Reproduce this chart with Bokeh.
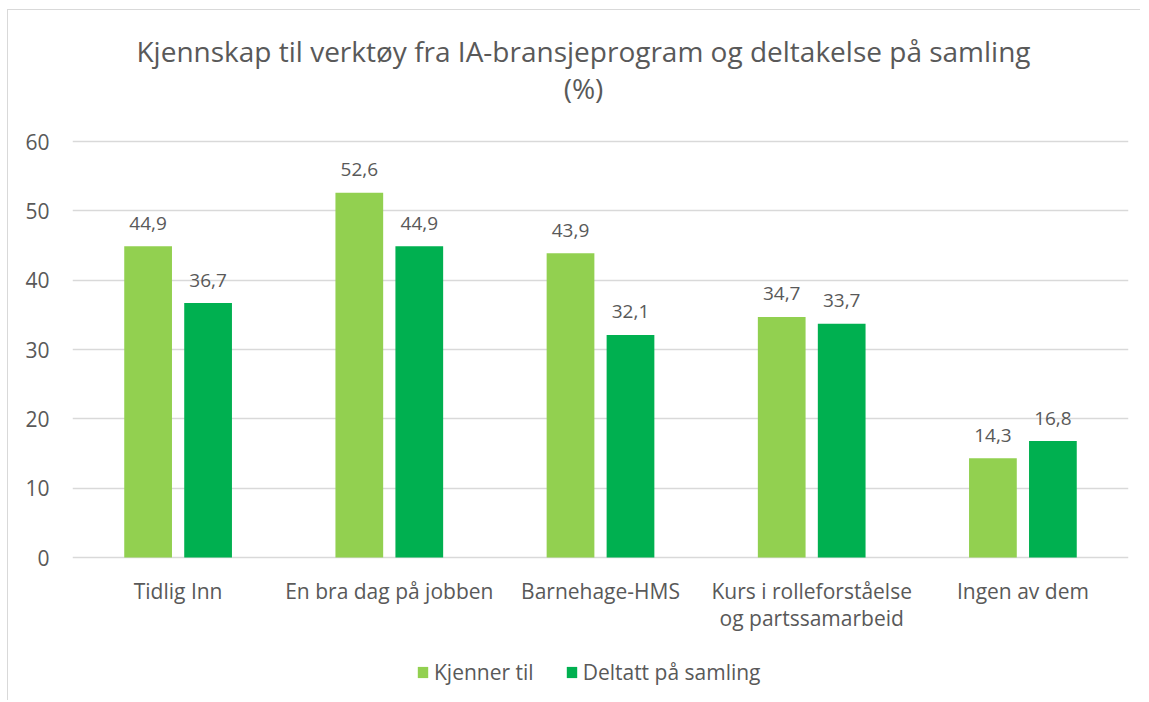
from bokeh.plotting import figure
from bokeh.models import (ColumnDataSource, Range1d, Legend, LegendItem, Label, FixedTicker)
from bokeh.transform import dodge
from bokeh.core.properties import value
from bokeh.embed import file_html
from bokeh.resources import INLINE

categories = ["Tidlig Inn", "En bra dag på jobben", "Barnehage-HMS",
              "Kurs i rolleforståelse\nog partssamarbeid", "Ingen av dem"]
kjenner_til = [44.9, 52.6, 43.9, 34.7, 14.3]
deltatt = [36.7, 44.9, 32.1, 33.7, 16.8]
series_names = ["Kjenner til", "Deltatt på samling"]
y_ticks = [0, 10, 20, 30, 40, 50, 60]
title_lines = ["Kjennskap til verktøy fra IA-bransjeprogram og deltakelse på samling", "(%)"]

FONT = "Open Sans"
TXT = "#595959"
GRID = "#D9D9D9"
C1 = "#92D050"
C2 = "#00B050"

def fmt(v):
    return f"{v:.1f}".replace(".", ",")

idx = list(range(len(categories)))
line1 = [c.split("\n")[0] for c in categories]
line2 = [c.split("\n")[1] if "\n" in c else "" for c in categories]

src = ColumnDataSource(dict(
    x=idx, base=[0] * len(idx), l1=line1, l2=line2,
    v1=kjenner_til, v2=deltatt,
    t1=[fmt(v) for v in kjenner_til], t2=[fmt(v) for v in deltatt],
))

# frame spans the whole height of the chart; value axis 0..60 occupies 416 px of it
PX_PER_UNIT = 416 / 60
y_top = 60 + 131 / PX_PER_UNIT
y_bot = -143 / PX_PER_UNIT

p = figure(frame_width=1056, frame_height=690,
           x_range=Range1d(-0.5, len(categories) - 0.5),
           y_range=Range1d(y_bot, y_top), output_backend="svg", toolbar_location=None,
           x_axis_location=None,
           min_border_left=64, min_border_right=12, min_border_top=0, min_border_bottom=0)
p.outline_line_color = None
p.title.text = ""
p.styles = {"border-left": "1px solid #D9D9D9", "border-top": "1px solid #D9D9D9",
            "margin-left": "7px", "margin-top": "9px"}

off = 0.142
w = 0.226
r1 = p.vbar(x=dodge("x", -off), top="v1", width=w, source=src,
            fill_color=C1, line_color=None)
r2 = p.vbar(x=dodge("x", off), top="v2", width=w, source=src,
            fill_color=C2, line_color=None)

for col, tcol, o in (("v1", "t1", -off), ("v2", "t2", off)):
    p.text(x=dodge("x", o), y=col, text=tcol, source=src,
           text_align="center", text_baseline="alphabetic", y_offset=-23,
           text_font=value(FONT), text_font_size="19px", text_color=TXT)

# category labels (two lines) under the baseline
for tcol, yo in (("l1", 33), ("l2", 60)):
    p.text(x="x", y="base", text=tcol, source=src, text_align="center",
           text_baseline="middle", y_offset=yo,
           text_font=value(FONT), text_font_size="21px", text_color=TXT)

# y axis
p.yaxis.ticker = FixedTicker(ticks=y_ticks)
p.yaxis.axis_line_color = None
p.yaxis.major_tick_line_color = None
p.yaxis.minor_tick_line_color = None
p.yaxis.major_label_text_font = FONT
p.yaxis.major_label_text_font_size = "21px"
p.yaxis.major_label_text_color = TXT
p.yaxis.major_label_standoff = 17

p.xgrid.grid_line_color = None
p.ygrid.grid_line_color = GRID
p.ygrid.grid_line_width = 1.5

# titles (screen units relative to the frame's bottom-left)
for line, yy in ((title_lines[0], 650), (title_lines[1], 613)):
    p.add_layout(Label(x=511, y=yy, x_units="screen", y_units="screen", text=line,
                       text_align="center", text_baseline="middle",
                       text_font=FONT, text_font_size="28px", text_color=TXT))

legend = Legend(items=[LegendItem(label=series_names[0], renderers=[r1]),
                       LegendItem(label=series_names[1], renderers=[r2])],
                orientation="horizontal", location=(344, 14),
                label_text_font=FONT, label_text_font_size="21px", label_text_color=TXT,
                glyph_width=13, glyph_height=14, spacing=31, label_standoff=5,
                padding=0, border_line_color=None, background_fill_alpha=0, margin=0)
p.add_layout(legend, "center")

open("out.html", "w").write(file_html(p, INLINE))
